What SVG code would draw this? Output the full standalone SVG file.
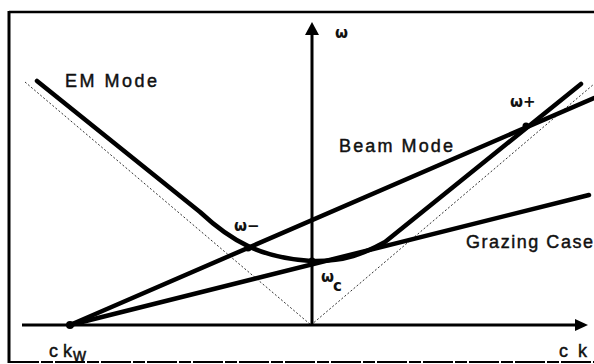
<svg xmlns="http://www.w3.org/2000/svg" width="594" height="364" viewBox="0 0 594 364">
<style>
.frame{stroke:#000;fill:none}
.axis{stroke:#000;stroke-width:3;fill:none}
.thick{stroke:#000;stroke-width:4.5;fill:none;stroke-linecap:round;stroke-linejoin:round}
.dot{stroke:#333;stroke-width:1;stroke-dasharray:2 2;fill:none}
.lbl{font-family:"Liberation Sans",Arial,sans-serif;font-size:18px;fill:#111;stroke:#111;stroke-width:0.45px}
.sym{font-family:"DejaVu Sans","Liberation Sans",sans-serif;font-size:15px;font-weight:bold;fill:#111}
.pt{fill:#000}
</style>
<rect width="594" height="364" fill="#fff"/>
<g id="frame">
<line class="frame" x1="9" y1="12" x2="594" y2="12" stroke-width="2.5"/>
<line class="frame" x1="9" y1="11" x2="9" y2="363" stroke-width="3"/>
<line class="frame" x1="9" y1="362" x2="594" y2="362" stroke-width="2" stroke-dasharray="30 2 12 2"/>
</g>
<g id="connectors">
<line class="dot" x1="25" y1="82" x2="311" y2="325"/>
<line class="dot" x1="311" y1="325" x2="594" y2="84"/>
<line class="axis" x1="22" y1="325" x2="577" y2="325"/>
<polygon points="575,319 588,325 575,331" fill="#000"/>
<line class="axis" x1="312" y1="326" x2="312" y2="33"/>
<polygon points="305,35 312,22 319,35" fill="#000"/>
<line class="thick" x1="70" y1="325" x2="594" y2="98"/>
<line class="thick" x1="70" y1="325" x2="589" y2="195"/>
<path class="thick" d="M37,81 L200,212 C230,240 260,258 311,261 C345,262 365,253 385,242 L581,84"/>
</g>
<g id="points">
<circle class="pt" cx="70" cy="325" r="4"/>
<circle class="pt" cx="248" cy="248" r="3.5"/>
<circle class="pt" cx="312" cy="261" r="3.5"/>
<circle class="pt" cx="526" cy="126" r="3.5"/>
</g>
<g id="em-mode"><text class="lbl" x="65" y="87" textLength="92" lengthAdjust="spacing">EM Mode</text></g>
<g id="beam-mode"><text class="lbl" x="339" y="152" textLength="114" lengthAdjust="spacing">Beam Mode</text></g>
<g id="grazing-case"><text class="lbl" x="466" y="248" textLength="127" lengthAdjust="spacing">Grazing Case</text></g>
<g id="omega-axis"><text class="sym" x="335" y="38">ω</text></g>
<g id="omega-plus"><text class="sym" x="510" y="107">ω+</text></g>
<g id="omega-minus"><text class="sym" x="234" y="231">ω−</text></g>
<g id="omega-c"><text class="sym" x="321" y="282">ω</text><text class="sym" x="333" y="291" font-size="13">c</text></g>
<g id="ckw"><text class="lbl" x="49" y="357" textLength="23" lengthAdjust="spacing">c k</text><text class="lbl" x="73" y="361" font-size="14">w</text></g>
<g id="ck"><text class="lbl" x="559" y="357" textLength="28" lengthAdjust="spacing">c k</text></g>
</svg>
